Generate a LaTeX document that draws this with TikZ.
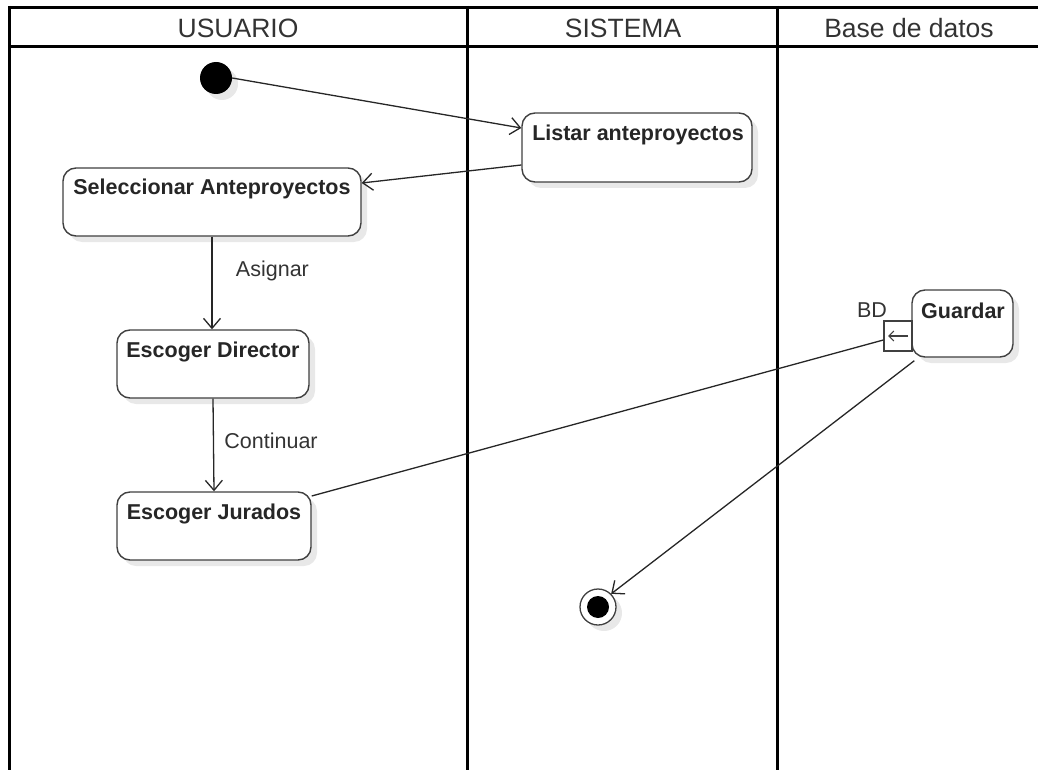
\documentclass[tikz,border=0pt]{standalone}
\usepackage{fontspec}
\setmainfont{Liberation Sans}
\usetikzlibrary{arrows.meta,shadows}
\definecolor{txt}{HTML}{333333}
\begin{document}
\begin{tikzpicture}[x=1pt,y=-1pt,
  lane/.style={line width=3pt,black},
  act/.style={draw=black!75,line width=1.4pt,rounded corners=13pt,fill=white,
    drop shadow={shadow xshift=6pt,shadow yshift=-6pt,fill=black!9,opacity=1}},
  acttext/.style={font=\bfseries\fontsize{21.5}{24}\selectfont,text=black!85},
  flow/.style={draw=black!85,line width=1.3pt,-{Straight Barb[length=10pt,width=17pt,line width=1.3pt]}},
  lbl/.style={font=\fontsize{21.5}{24}\selectfont,text=txt},
  hdr/.style={font=\fontsize{26.5}{30}\selectfont,text=txt}]
\useasboundingbox (0,0) rectangle (1038,770);
% swimlanes
\draw[lane] (8,7.5) -- (1038,7.5);
\draw[lane] (8,46.5) -- (1038,46.5);
\draw[lane] (9,6) -- (9,770);
\draw[lane] (467.5,6) -- (467.5,770);
\draw[lane] (777.5,6) -- (777.5,770);
\node[hdr] (h1) at (238,28) {USUARIO};
\node[hdr] (h2) at (623,28) {SISTEMA};
\node[hdr] (h3) at (909,28) {Base de datos};
% initial
\fill[black!9] (222,84) circle (16);
\node[circle,fill=black,minimum size=32pt,inner sep=0] (ini) at (216,78) {};
% activities
\node[act,minimum width=230pt,minimum height=69pt,inner sep=0] (listar) at (637,147.5) {};
\node[acttext] at (638,135) {Listar anteproyectos};
\node[act,minimum width=298pt,minimum height=68pt,inner sep=0] (sel) at (212,202) {};
\node[acttext] at (212,189) {Seleccionar Anteproyectos};
\node[act,minimum width=192pt,minimum height=68pt,inner sep=0] (dir) at (213,364) {};
\node[acttext] at (213,352) {Escoger Director};
\node[act,minimum width=194pt,minimum height=68pt,inner sep=0] (jur) at (214,526) {};
\node[acttext] at (214,514) {Escoger Jurados};
\node[act,minimum width=101pt,minimum height=67pt,inner sep=0] (guard) at (962.5,323.5) {};
\node[acttext] at (963,311) {Guardar};
% pin
\node[draw=black!75,line width=1.3pt,fill=white,minimum width=28pt,minimum height=30pt,inner sep=0] (pin) at (898,336) {};
\draw[black!75,line width=1.1pt,-{Straight Barb[length=5pt,width=10pt]}] (908,336) -- (888,336);
\node[lbl] (bd) at (872,310) {BD};
% final
\fill[black!9] (604,613) circle (18);
\node[circle,draw=black!75,line width=1.3pt,fill=white,minimum size=36pt,inner sep=0] (fin) at (598,607) {};
\fill[black] (fin.center) circle (11);
% edges
\draw[flow] (ini.east) -- (listar.west |- 0,128);
\draw[flow] (listar.west |- 0,165) -- (sel.east |- 0,183);
\draw[flow] (sel.south) -- (dir.north -| sel.south) node[lbl,pos=0.37,right=20pt] {Asignar};
\draw[flow] (dir.south) -- (jur.north) node[lbl,pos=0.45,right=7pt] {Continuar};
\draw[draw=black!85,line width=1.3pt] (jur.east |- 0,496) -- (pin.west |- 0,340);
\draw[flow] (guard.south west) ++(3,3) -- (fin.north east);
\end{tikzpicture}
\end{document}
